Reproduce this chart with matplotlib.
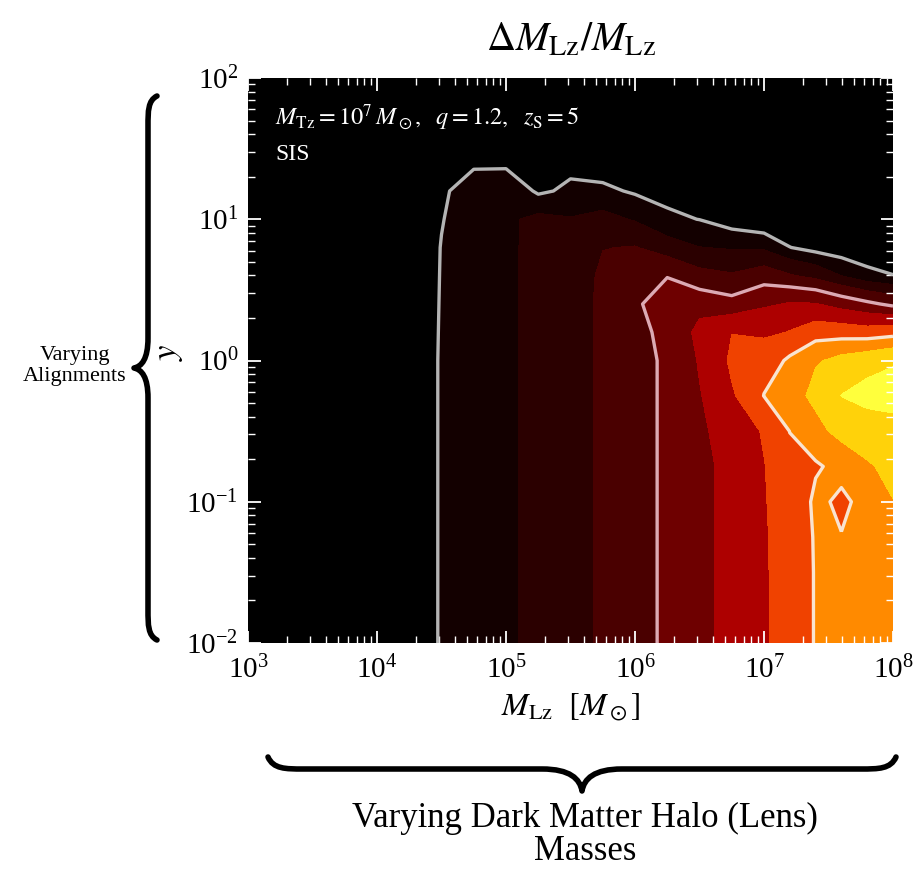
import numpy as np
import matplotlib.pyplot as plt
from matplotlib.path import Path
from matplotlib.patches import PathPatch

plt.rcParams['font.family'] = ['Liberation Serif', 'DejaVu Serif']
plt.rcParams['mathtext.fontset'] = 'stix'

# grid: log10 of lens mass (columns) and log10 of y (rows)
log_mass = [3.0, 4.0, 4.25, 4.5, 4.75, 5.0, 5.25, 5.5, 5.75, 6.0,
            6.25, 6.5, 6.75, 7.0, 7.2, 7.4, 7.6, 7.8, 8.0]
log_y = [-2.0, -1.5, -1.25, -1.0, -0.75, -0.5, -0.25, 0.0, 0.2,
         0.4, 0.6, 0.8, 1.0, 1.2, 1.4, 1.6, 2.0]

# contour band reached at each grid point (one row per y value)
band_grid = [
    [0, 0.3, 0.65, 1.06, 1.46, 1.86, 2.28, 2.71, 3.16, 3.67, 4.2, 4.77, 5.34, 5.91, 6.47, 7.06, 7.4, 7.6, 7.8],
    [0, 0.3, 0.65, 1.06, 1.46, 1.86, 2.28, 2.71, 3.16, 3.67, 4.2, 4.77, 5.34, 5.91, 6.47, 7.06, 7.4, 7.6, 7.85],
    [0, 0.3, 0.65, 1.06, 1.46, 1.86, 2.28, 2.71, 3.16, 3.67, 4.2, 4.77, 5.34, 5.92, 6.48, 7.08, 7.02, 7.5, 7.9],
    [0, 0.3, 0.65, 1.06, 1.46, 1.86, 2.28, 2.71, 3.16, 3.67, 4.2, 4.77, 5.34, 5.95, 6.5, 7.15, 6.85, 7.3, 7.98],
    [0, 0.3, 0.65, 1.06, 1.46, 1.86, 2.28, 2.71, 3.16, 3.67, 4.2, 4.77, 5.34, 5.97, 6.7, 6.9, 7.3, 7.9, 8.3],
    [0, 0.3, 0.65, 1.06, 1.46, 1.86, 2.28, 2.71, 3.16, 3.67, 4.2, 4.85, 5.5, 6.1, 7.02, 7.7, 8.4, 8.6, 8.72],
    [0, 0.3, 0.65, 1.06, 1.46, 1.86, 2.28, 2.71, 3.16, 3.67, 4.2, 4.95, 5.9, 7.02, 7.6, 8.3, 9.02, 9.3, 9.35],
    [0, 0.3, 0.65, 1.06, 1.46, 1.86, 2.28, 2.71, 3.16, 3.67, 4.2, 5.1, 6.2, 6.6, 7.15, 7.9, 8.3, 8.6, 8.9],
    [0, 0.3, 0.65, 1.05, 1.46, 1.86, 2.28, 2.71, 3.16, 3.75, 4.3, 5.3, 5.98, 5.8, 6.05, 6.5, 6.5, 6.4, 6.6],
    [0, 0.3, 0.65, 1.04, 1.46, 1.86, 2.28, 2.71, 3.16, 3.92, 4.35, 4.6, 4.3, 4.85, 5.1, 5.05, 4.6, 4.2, 3.75],
    [0, 0.3, 0.65, 1.03, 1.46, 1.86, 2.28, 2.71, 3.12, 3.6, 3.97, 3.3, 3.1, 3.5, 3.1, 2.7, 2.0, 1.3, 1.02],
    [0, 0.3, 0.65, 1.02, 1.46, 1.86, 2.28, 2.6, 2.98, 3.05, 2.45, 2.02, 1.9, 1.83, 1.02, 0.6, 0.3, 0.2, 0.4],
    [0, 0.3, 0.62, 0.97, 1.46, 1.86, 2.25, 2.05, 2.3, 1.9, 1.16, 0.98, 0.4, 0, 0, 0.2, 0.1, 0.1, 0.2],
    [0, 0.25, 0.55, 0.9, 1.4, 1.75, 0.8, 1.3, 1.2, 0.85, 0.7, 0.5, 0.2, 0, 0, 0, 0, 0, 0.1],
    [0, 0.2, 0.3, 0.5, 0.85, 0.75, 0.3, 0.5, 0.4, 0.3, 0.3, 0.2, 0.1, 0, 0, 0, 0, 0, 0],
    [0, 0.1, 0.1, 0.2, 0.3, 0.3, 0.1, 0.1, 0.1, 0.1, 0.1, 0.1, 0, 0, 0, 0, 0, 0, 0],
    [0, 0, 0, 0, 0, 0, 0, 0, 0, 0, 0, 0, 0, 0, 0, 0, 0, 0, 0],
]

band_levels = [-1, 1, 2, 3, 4, 5, 6, 7, 8, 9, 10]
band_colors = ['#000000', '#130000', '#2b0000', '#4a0000', '#6e0000',
               '#ad0000', '#f04200', '#ff8a00', '#ffd20a', '#ffff3c']
line_levels = [1, 4, 7]
line_colors = ['#b4b4b4', '#dcaab4', '#f9e4d0']

W, H = 913, 869


def to_fig(x, y):
    # pixel position (y measured from the top) -> figure fraction
    return x / W, 1 - y / H


def brace(fig, p0, p1, normal, q, h, c, c2, lw=4):
    p0 = np.array(p0, float)
    p1 = np.array(p1, float)
    L = np.hypot(*(p1 - p0))
    d = (p1 - p0) / L
    n = np.array(normal, float)
    loc = [(0, 0), (0.15 * c, q), (0.5 * c, q), (c, q),
           (L / 2 - c2, q),
           (L / 2 - 0.3 * c2, q), (L / 2 - 0.05 * c2, q + 0.45 * (h - q)), (L / 2, h),
           (L / 2 + 0.05 * c2, q + 0.45 * (h - q)), (L / 2 + 0.3 * c2, q), (L / 2 + c2, q),
           (L - c, q),
           (L - 0.5 * c, q), (L - 0.15 * c, q), (L, 0)]
    codes = [Path.MOVETO] + [Path.CURVE4] * 3 + [Path.LINETO] + [Path.CURVE4] * 6 \
        + [Path.LINETO] + [Path.CURVE4] * 3
    verts = []
    for s, t in loc:
        px = p0 + s * d + t * n
        verts.append(to_fig(px[0], px[1]))
    patch = PathPatch(Path(verts, codes), facecolor='none', edgecolor='black',
                      lw=lw, capstyle='round', joinstyle='round',
                      transform=fig.transFigure)
    fig.add_artist(patch)


fig = plt.figure(figsize=(W / 100, H / 100), dpi=100)
ax = fig.add_axes([248 / W, 1 - 643 / H, 645 / W, 565 / H])
ax.set_facecolor('black')

X, Y = np.meshgrid(10.0 ** np.array(log_mass), 10.0 ** np.array(log_y))
Z = np.array(band_grid)
ax.contourf(X, Y, Z, levels=band_levels, colors=band_colors)
ax.contour(X, Y, Z, levels=line_levels, colors=line_colors, linewidths=2.4)

ax.set_xscale('log')
ax.set_yscale('log')
ax.set_xlim(1e3, 1e8)
ax.set_ylim(1e-2, 1e2)

ax.tick_params(which='both', direction='in', top=True, right=True,
               color='white', labelsize=21)
ax.tick_params(which='major', length=9, width=1.3)
ax.tick_params(which='minor', length=5, width=1.0)
ax.tick_params(axis='x', pad=9)
ax.tick_params(axis='y', pad=7)
for s in ax.spines.values():
    s.set_visible(False)

ax.set_title(r'$\Delta M_{\rm Lz}/M_{\rm Lz}$', fontsize=29, pad=20)
ax.set_xlabel(r'$M_{\rm Lz}\ \ [M_\odot]$', fontsize=23, labelpad=6)
ax.set_ylabel(r'$y$', fontsize=25)
ax.yaxis.set_label_coords(-0.098, 0.515)

ax.text(0.042, 0.917, r'$M_{\rm Tz} = 10^7\,M_\odot,\ \ q = 1.2,\ \ z_{\rm S} = 5$',
        color='white', fontsize=17.5, transform=ax.transAxes, va='baseline')
ax.text(0.042, 0.855, 'SIS', color='white', fontsize=17,
        transform=ax.transAxes, va='baseline')

# braces and their captions
brace(fig, (157, 96), (157, 640), (-1, 0), q=9, h=23, c=30, c2=30)
brace(fig, (268, 757), (896, 757), (0, 1), q=12, h=34, c=35, c2=40)

fig.text(*to_fig(75, 366), 'Varying\nAlignments', ha='center', va='center',
         fontsize=16, linespacing=1.1)
fig.text(*to_fig(585, 835), 'Varying Dark Matter Halo (Lens)\nMasses',
         ha='center', va='center', fontsize=25, linespacing=1.0)

fig.savefig('out.png', dpi=100)
